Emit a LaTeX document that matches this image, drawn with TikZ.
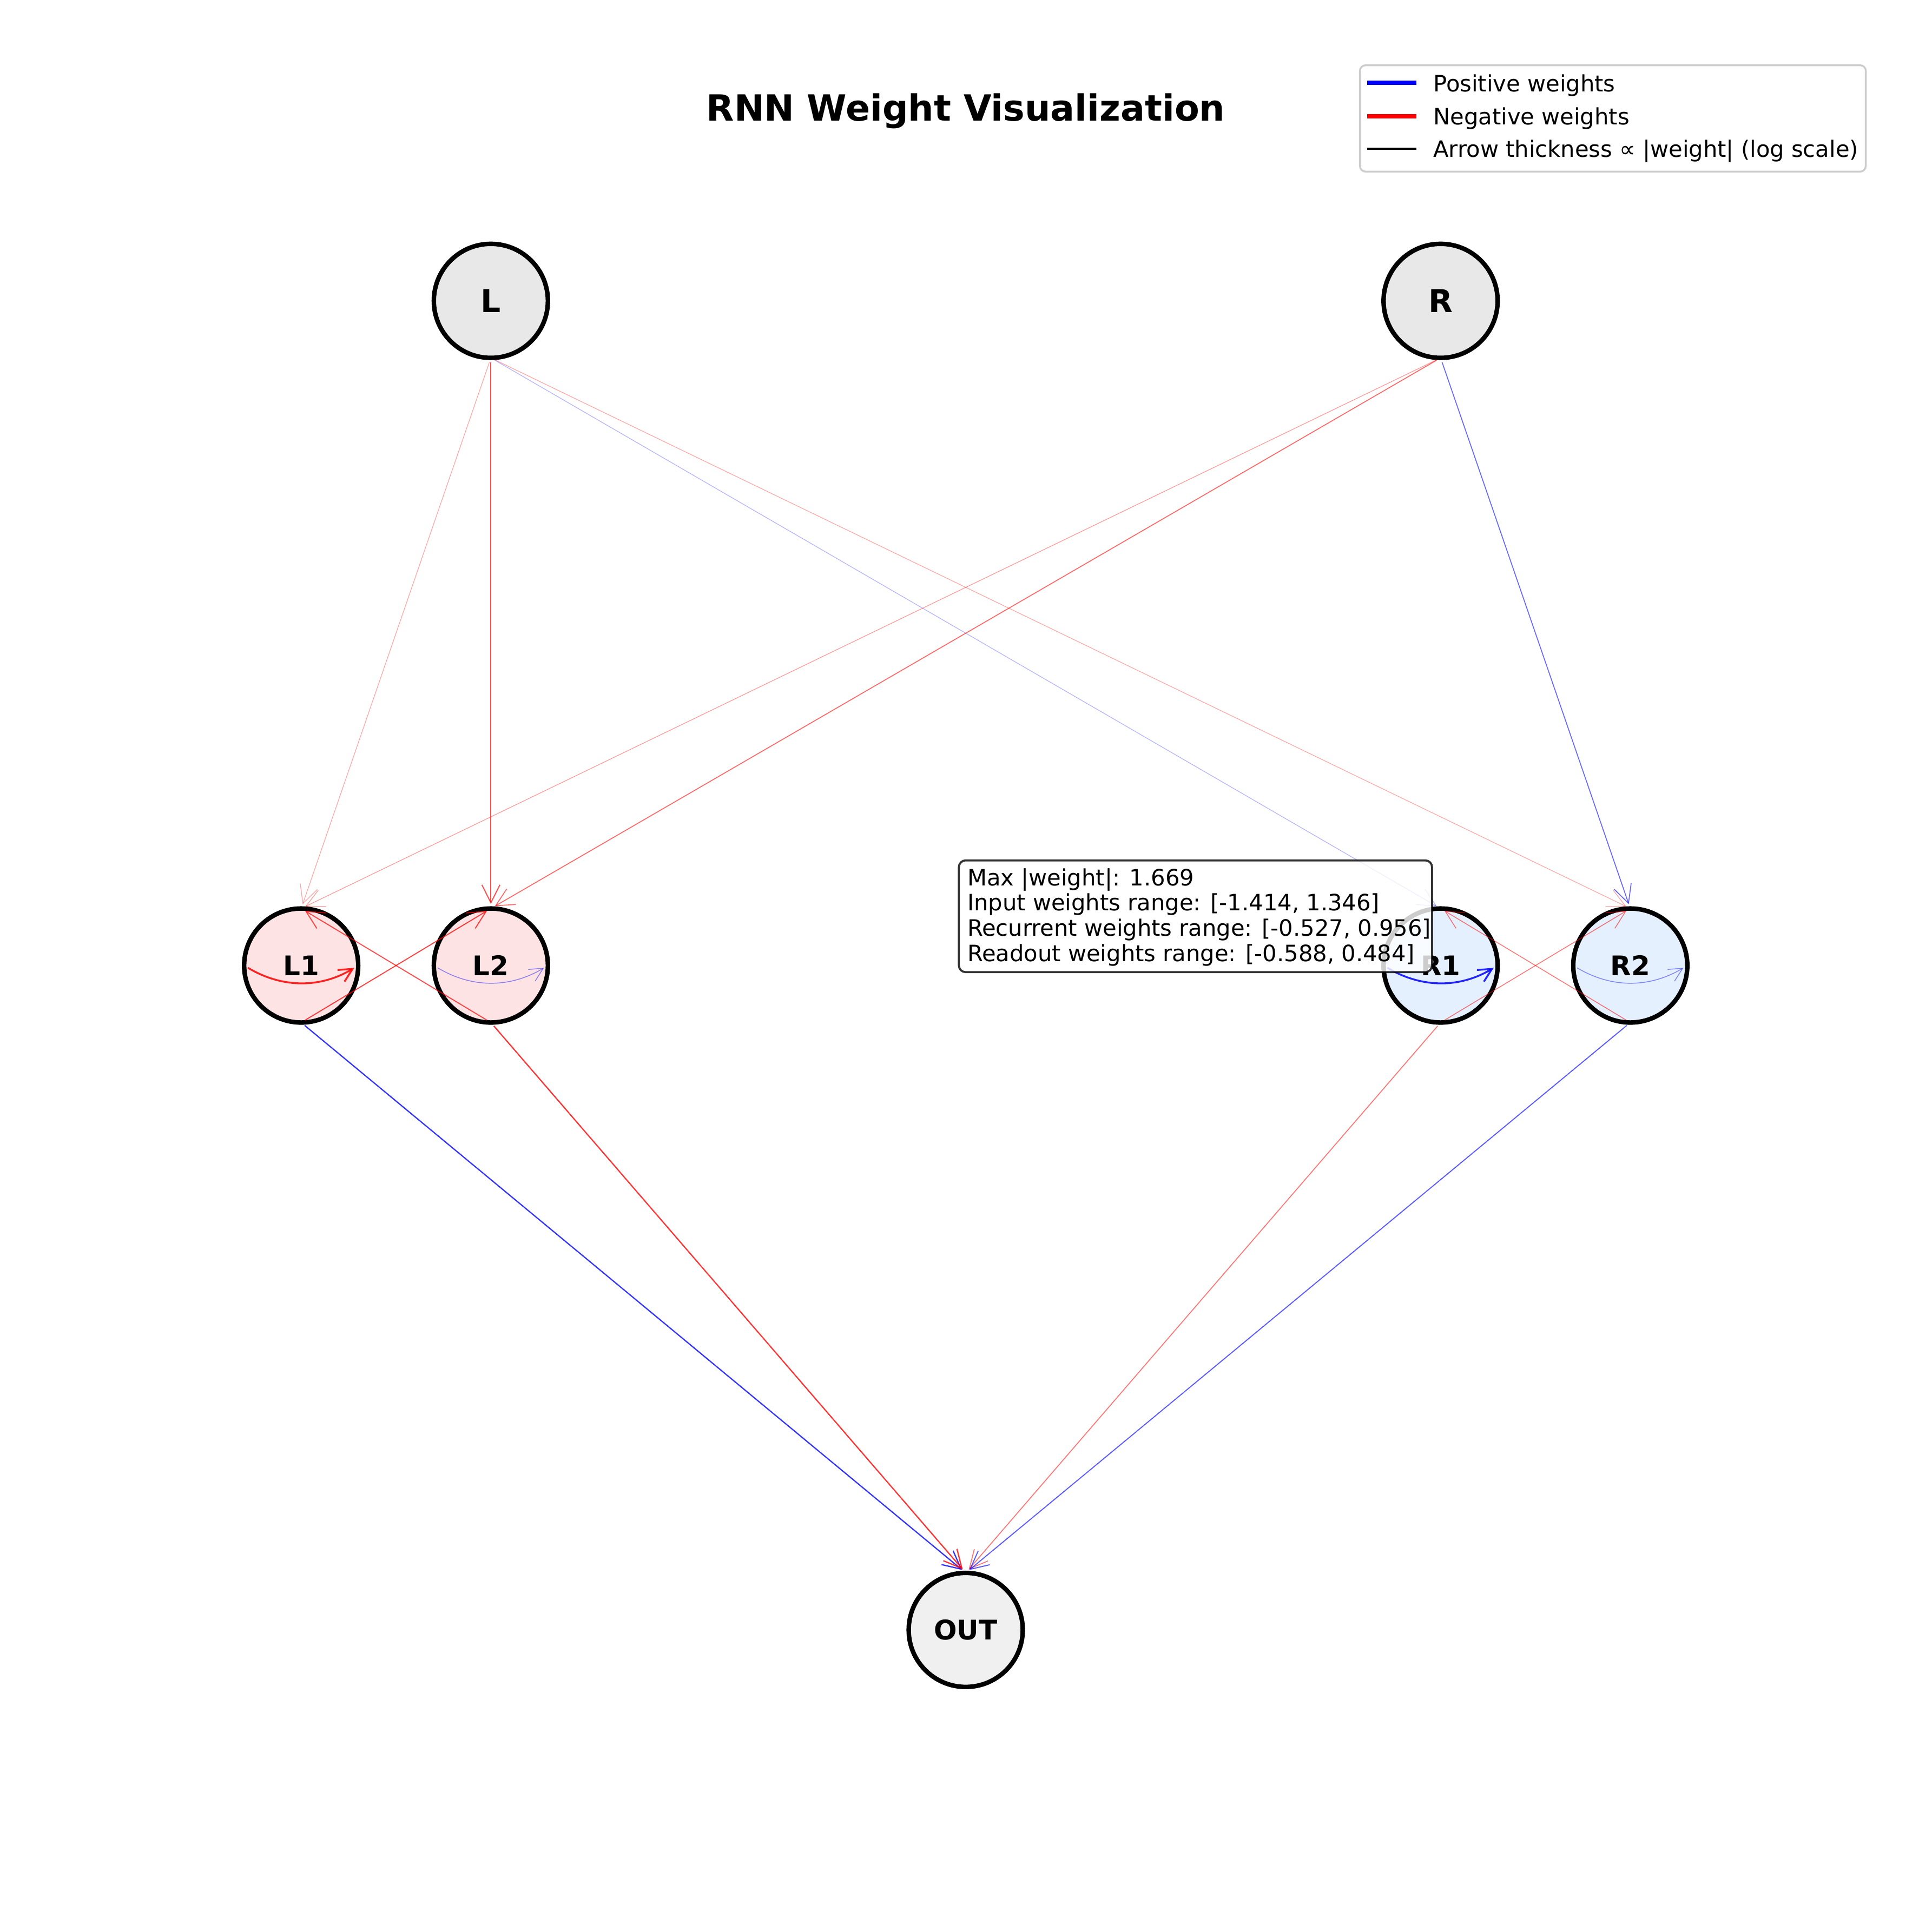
\documentclass[tikz,border=0pt]{standalone}
\usepackage{fontspec}
\setmainfont{DejaVu Sans}
\usetikzlibrary{arrows.meta,calc}
\definecolor{ingray}{RGB}{232,232,232}
\definecolor{lpink}{RGB}{253,227,227}
\definecolor{rblue}{RGB}{228,240,253}
\definecolor{outgray}{RGB}{240,240,240}
\definecolor{pblue}{RGB}{0,0,255}
\definecolor{nred}{RGB}{255,0,0}
\definecolor{legframe}{RGB}{204,204,204}
\begin{document}
\begin{tikzpicture}[x=0.54643pt,y=-0.54643pt,
  neuron/.style={circle, draw=black, line width=2pt, minimum size=50.6pt,
    inner sep=0pt, outer sep=0pt, text depth=0pt},
  inneuron/.style={neuron, fill=ingray, text height=10.2pt,
    font=\bfseries\fontsize{14pt}{17pt}\selectfont},
  hidneuron/.style={neuron, text height=8.75pt,
    font=\bfseries\fontsize{12pt}{14pt}\selectfont},
  edge/.style={-{Straight Barb[length=8pt,width=8pt]}, shorten >=2pt, shorten <=2pt},
  selfedge/.style={-{Straight Barb[length=6pt,width=6pt]}, shorten >=2pt, shorten <=2pt},
  infotext/.style={anchor=base west, inner sep=0pt, font=\fontsize{10pt}{12pt}\selectfont},
  legtext/.style={anchor=base west, inner sep=0pt, font=\fontsize{10pt}{12pt}\selectfont}
]
\useasboundingbox (0,0) rectangle (1568,1568);
\fill[white] (0,0) rectangle (1568,1568);

% title
\node[anchor=base, inner sep=0pt, font=\bfseries\fontsize{16pt}{19pt}\selectfont] (title) at (784,98) {RNN Weight Visualization};

% nodes
\node[inneuron] (L) at (398.5,244.3) {L};
\node[inneuron] (R) at (1169.5,244.3) {R};
\node[hidneuron, fill=lpink] (L1) at (244.5,784) {L1};
\node[hidneuron, fill=lpink] (L2) at (398.5,784) {L2};
\node[hidneuron, fill=rblue] (R1) at (1169.5,784) {R1};
\node[hidneuron, fill=rblue] (R2) at (1323.5,784) {R2};
\node[hidneuron, fill=outgray] (OUT) at (784,1323.5) {OUT};

% input weights
\draw[edge, draw=nred, draw opacity=.35, line width=.3pt] (L.south) -- (L1.north);
\draw[edge, draw=nred, draw opacity=.7, line width=.45pt] (L.south) -- (L2.north);
\draw[edge, draw=pblue, draw opacity=.3, line width=.3pt] (L.south) -- (R1.north);
\draw[edge, draw=nred, draw opacity=.35, line width=.3pt] (L.south) -- (R2.north);
\draw[edge, draw=nred, draw opacity=.4, line width=.3pt] (R.south) -- (L1.north);
\draw[edge, draw=nred, draw opacity=.6, line width=.4pt] (R.south) -- (L2.north);
\draw[edge, draw=pblue, draw opacity=.6, line width=.4pt] (R.south) -- (R2.north);

% recurrent weights
\draw[selfedge, draw=nred, draw opacity=.85, line width=.8pt] (L1.west) .. controls ($(L1)+(-15.4,18.5)$) and ($(L1)+(15.4,18.5)$) .. (L1.east);
\draw[selfedge, draw=pblue, draw opacity=.45, line width=.35pt] (L2.west) .. controls ($(L2)+(-15.4,18.5)$) and ($(L2)+(15.4,18.5)$) .. (L2.east);
\draw[selfedge, draw=pblue, draw opacity=.85, line width=.8pt] (R1.west) .. controls ($(R1)+(-15.4,18.5)$) and ($(R1)+(15.4,18.5)$) .. (R1.east);
\draw[selfedge, draw=pblue, draw opacity=.45, line width=.35pt] (R2.west) .. controls ($(R2)+(-15.4,18.5)$) and ($(R2)+(15.4,18.5)$) .. (R2.east);
\draw[edge, draw=nred, draw opacity=.75, line width=.45pt] (L1.south) -- (L2.north);
\draw[edge, draw=nred, draw opacity=.7, line width=.45pt] (L2.south) -- (L1.north);
\draw[edge, draw=nred, draw opacity=.55, line width=.35pt] (R1.south) -- (R2.north);
\draw[edge, draw=nred, draw opacity=.55, line width=.35pt] (R2.south) -- (R1.north);

% readout weights
\draw[edge, draw=pblue, draw opacity=.8, line width=.55pt] (L1.south) -- (OUT.north);
\draw[edge, draw=nred, draw opacity=.8, line width=.55pt] (L2.south) -- (OUT.north);
\draw[edge, draw=nred, draw opacity=.55, line width=.4pt] (R1.south) -- (OUT.north);
\draw[edge, draw=pblue, draw opacity=.65, line width=.45pt] (R2.south) -- (OUT.north);

% info box
\node[draw=black, draw opacity=.8, line width=0.9pt, fill=white, fill opacity=.8,
  rounded corners=3pt, minimum width=209.9pt, minimum height=49.6pt, inner sep=0pt]
  (info) at (970.5,744) {};
\node[infotext] (t1) at (785,719) {Max |weight|: 1.669};
\node[infotext] (t2) at (785,739.6) {Input weights range: [-1.414, 1.346]};
\node[infotext] (t3) at (785,760.2) {Recurrent weights range: [-0.527, 0.956]};
\node[infotext] (t4) at (785,780.8) {Readout weights range: [-0.588, 0.484]};

% legend
\node[draw=legframe, line width=0.8pt, fill=white, fill opacity=.8, rounded corners=2.5pt,
  minimum width=224.4pt, minimum height=47.2pt, inner sep=0pt] (leg) at (1309.35,96.15) {};
\coordinate (h1a) at (1110,67.3); \coordinate (h1b) at (1150,67.3);
\coordinate (h2a) at (1110,94.4); \coordinate (h2b) at (1150,94.4);
\coordinate (h3a) at (1110,120.8); \coordinate (h3b) at (1150,120.8);
\draw[pblue, line width=2pt] (h1a) -- (h1b);
\draw[nred, line width=2pt] (h2a) -- (h2b);
\draw[black, line width=1pt] (h3a) -- (h3b);
\node[legtext] (lt1) at (1163.3,74.3) {Positive weights};
\node[legtext] (lt2) at (1163.3,101.4) {Negative weights};
\node[legtext] (lt3) at (1163.3,127.8) {Arrow thickness ∝ |weight| (log scale)};
\end{tikzpicture}
\end{document}
